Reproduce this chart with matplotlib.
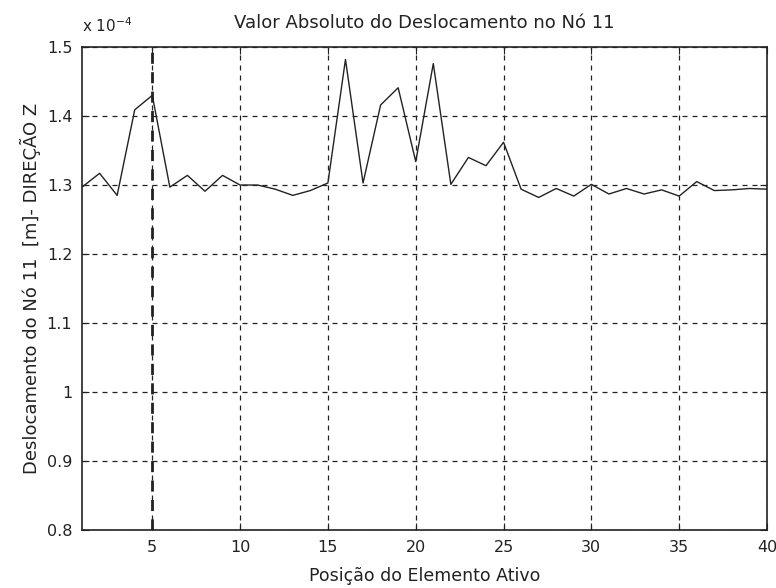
import numpy as np
from matplotlib import pyplot as plt

# posicao do elemento ativo (1..40)
posicao = list(range(1, 41))

# deslocamento do no 11, em unidades de 1e-4 m
deslocamento = [
    1.297, 1.317, 1.285, 1.409, 1.430, 1.297, 1.314, 1.291, 1.314, 1.300,
    1.300, 1.294, 1.285, 1.292, 1.303, 1.482, 1.303, 1.416, 1.441, 1.334,
    1.476, 1.301, 1.340, 1.328, 1.362, 1.294, 1.282, 1.295, 1.284, 1.301,
    1.287, 1.295, 1.287, 1.293, 1.284, 1.305, 1.292, 1.293, 1.295, 1.294,
]

x_ticks = [5, 10, 15, 20, 25, 30, 35, 40]
y_ticks = [0.8, 0.9, 1.0, 1.1, 1.2, 1.3, 1.4, 1.5]
y_labels = ['0.8', '0.9', '1', '1.1', '1.2', '1.3', '1.4', '1.5']

plt.rcParams['font.family'] = ['DejaVu Sans']

fig = plt.figure(figsize=(7.76, 5.88), dpi=100)
ax = fig.add_axes([0.1057, 0.0986, 0.8827, 0.8214])

ax.plot(posicao, deslocamento, color='#222222', linewidth=1.0)
ax.axvline(5, color='#222222', linestyle=(0, (4, 3)), linewidth=2.0, zorder=0)

ax.set_xlim(1, 40)
ax.set_ylim(0.8, 1.5)
ax.set_xticks(x_ticks)
ax.set_yticks(y_ticks)
ax.set_yticklabels(y_labels)
ax.grid(True, color='#222222', linestyle=(0, (4, 4)), linewidth=0.9)
ax.tick_params(direction='in', length=5, labelsize=11.5, colors='#222222',
               top=True, right=True, pad=7)
for s in ax.spines.values():
  s.set_linewidth(1.2)
  s.set_color('#222222')

ax.set_title('Valor Absoluto do Deslocamento no Nó 11', fontsize=13, pad=14,
             color='#222222')
ax.set_xlabel('Posição do Elemento Ativo', fontsize=12.5, labelpad=9,
              color='#222222')
ax.set_ylabel('Deslocamento do Nó 11  [m]- DIREÇÃO Z', fontsize=13,
              labelpad=4, color='#222222')
fig.text(0.1057, 0.94, 'x 10$^{-4}$', fontsize=11, ha='left', va='bottom',
         color='#222222')

fig.savefig('out.png', dpi=100)
